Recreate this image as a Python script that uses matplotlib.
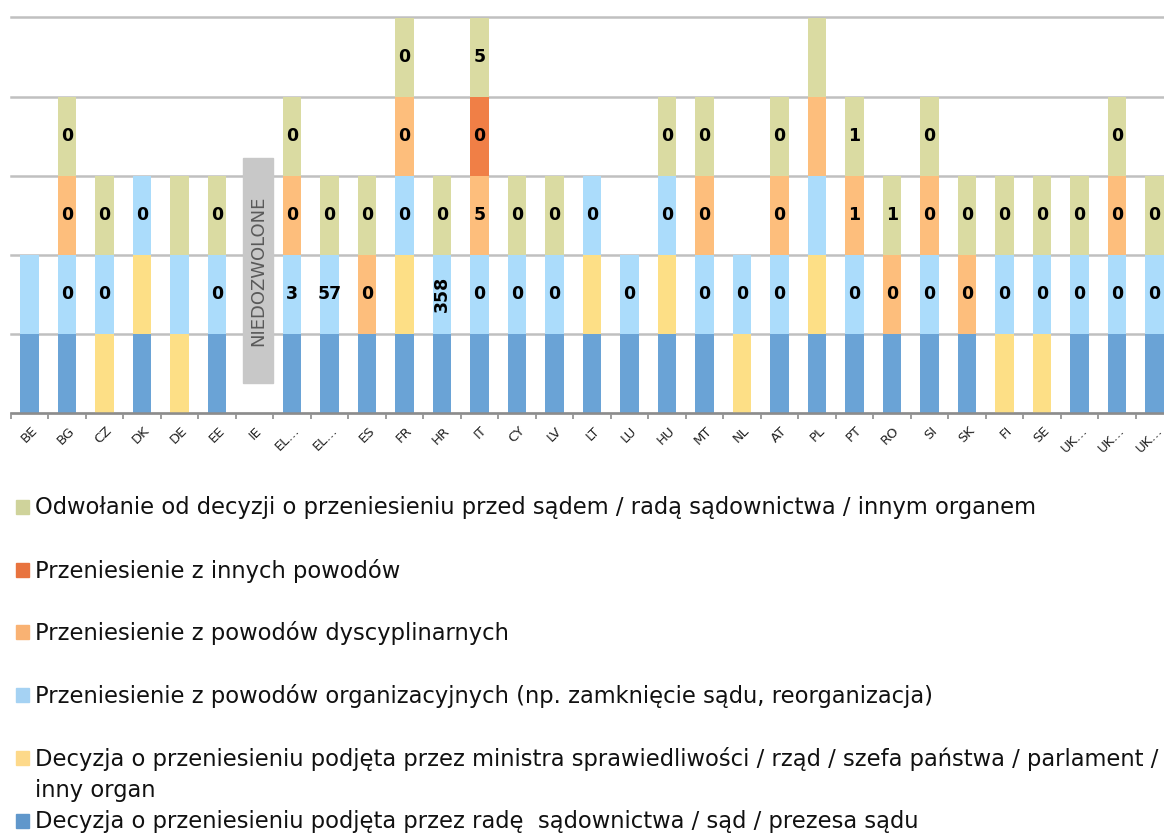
import numpy as np
import matplotlib
matplotlib.use('Agg')
from matplotlib import pyplot as plt
from matplotlib.patches import Rectangle
from matplotlib.transforms import offset_copy

#Data
countries = ['BE', 'BG', 'CZ', 'DK', 'DE', 'EE', 'IE', 'EL…', 'EL…', 'ES', 'FR', 'HR', 'IT', 'CY', 'LV',
             'LT', 'LU', 'HU', 'MT', 'NL', 'AT', 'PL', 'PT', 'RO', 'SI', 'SK', 'FI', 'SE', 'UK…', 'UK…', 'UK…']

#1 = segment present, stacked bottom to top
council   = [1, 1, 0, 1, 0, 1, 0, 1, 1, 1, 1, 1, 1, 1, 1, 1, 1, 1, 1, 0, 1, 1, 1, 1, 1, 1, 0, 0, 1, 1, 1]
minister  = [0, 0, 1, 1, 1, 0, 0, 0, 0, 0, 1, 0, 0, 0, 0, 1, 0, 1, 0, 1, 0, 1, 0, 0, 0, 0, 1, 1, 0, 0, 0]
organis   = [1, 1, 1, 1, 1, 1, 0, 1, 1, 0, 1, 1, 1, 1, 1, 1, 1, 1, 1, 1, 1, 1, 1, 0, 1, 0, 1, 1, 1, 1, 1]
discipl   = [0, 1, 0, 0, 0, 0, 0, 1, 0, 1, 1, 0, 1, 0, 0, 0, 0, 0, 1, 0, 1, 1, 1, 1, 1, 1, 0, 0, 0, 1, 0]
other     = [0, 0, 0, 0, 0, 0, 0, 0, 0, 0, 0, 0, 1, 0, 0, 0, 0, 0, 0, 0, 0, 0, 0, 0, 0, 0, 0, 0, 0, 0, 0]
appeal    = [0, 1, 1, 0, 1, 1, 0, 1, 1, 1, 1, 1, 1, 1, 1, 0, 0, 1, 1, 0, 1, 1, 1, 1, 1, 1, 1, 1, 1, 1, 1]

#Numbers written on the segments ('' = none)
council_lab  = [''] * 31
minister_lab = [''] * 31
organis_lab  = ['', '0', '0', '0', '', '0', '', '3', '57', '', '0', '358', '0', '0', '0', '0', '0', '0', '0', '0',
                '0', '', '0', '', '0', '', '0', '0', '0', '0', '0']
discipl_lab  = ['', '0', '', '', '', '', '', '0', '', '0', '0', '', '5', '', '', '', '', '', '0', '', '0', '', '1',
                '0', '0', '0', '', '', '', '0', '']
other_lab    = [''] * 12 + ['0'] + [''] * 18
appeal_lab   = ['', '0', '0', '', '', '0', '', '0', '0', '0', '0', '0', '5', '0', '0', '', '', '0', '0', '', '0', '',
                '1', '1', '0', '0', '0', '0', '0', '0', '0']

names = ['Decyzja o przeniesieniu podjęta przez radę  sądownictwa / sąd / prezesa sądu',
         'Decyzja o przeniesieniu podjęta przez ministra sprawiedliwości / rząd / szefa państwa / parlament /\ninny organ',
         'Przeniesienie z powodów organizacyjnych (np. zamknięcie sądu, reorganizacja)',
         'Przeniesienie z powodów dyscyplinarnych',
         'Przeniesienie z innych powodów',
         'Odwołanie od decyzji o przeniesieniu przed sądem / radą sądownictwa / innym organem']

series = [council, minister, organis, discipl, other, appeal]
labels = [council_lab, minister_lab, organis_lab, discipl_lab, other_lab, appeal_lab]
colors = ['#6aa3d6', '#fddf86', '#abdcfb', '#fdbe7c', '#f07f46', '#dadba2']
legend_colors = ['#6097cb', '#fdd98a', '#a5d2f3', '#f9b273', '#e8733e', '#cfd39b']

not_allowed = 'IE'

fig = plt.figure(figsize=(11.64, 8.33), dpi=100)
ax = fig.add_axes([10.75 / 1164, 420 / 833, 1162.5 / 1164, 395.5 / 833])

x = np.arange(len(countries))
bottom = np.zeros(len(countries))
for vals, labs, col in zip(series, labels, colors):
    vals = np.array(vals)
    ax.bar(x, vals, 0.5, bottom=bottom, color=col, linewidth=0, zorder=3)
    for i in range(len(countries)):
        if vals[i] and labs[i]:
            rot = 90 if len(labs[i]) > 2 else 0
            ax.text(x[i], bottom[i] + 0.5, labs[i], ha='center', va='center', rotation=rot,
                    fontsize=12.5, fontweight='bold', color='black', zorder=4)
    bottom = bottom + vals

#"not allowed" box
ie = countries.index(not_allowed)
ax.add_patch(Rectangle((ie - 0.31, 0.38), 0.8, 2.84, color='#c8c8c8', zorder=3))
ax.text(ie + 0.09, 0.38 + 1.42, 'NIEDOZWOLONE', rotation=90, ha='center', va='center',
        fontsize=13, color='#595959', zorder=4)

ax.set_xlim(-0.5, len(countries) - 0.5)
ax.set_ylim(0, 5)
ax.set_yticks(range(6))
ax.yaxis.grid(True, color='#c0c0c0', linewidth=1.8, zorder=0)
for gl in ax.get_ygridlines():
    gl.set_clip_on(False)
ax.tick_params(axis='y', length=0, labelleft=False)
for s in ['top', 'right', 'left']:
    ax.spines[s].set_visible(False)
ax.spines['bottom'].set_color('#8c8c8c')
ax.spines['bottom'].set_linewidth(1.8)
ax.spines['bottom'].set_zorder(5)

ax.set_xticks(x)
ax.set_xticks(np.arange(-0.5, len(countries), 1), minor=True)
ax.tick_params(axis='x', which='major', length=0, labelbottom=False)
ax.tick_params(axis='x', which='minor', length=4, width=1.2, color='#8c8c8c')
tick_tr = offset_copy(ax.get_xaxis_transform(), fig=fig, x=1, y=-11, units='dots')
for i, c in enumerate(countries):
    ax.text(x[i], 0, c, transform=tick_tr, rotation=45, ha='right', va='top', rotation_mode='anchor',
            fontsize=9.5, color='#222222')

#Legend (top entry is the last series)
legend_y = [507, 570, 632, 695, 758, 821]
for k, idx in enumerate(range(len(names) - 1, -1, -1)):
    yc = legend_y[k]
    fig.patches.append(Rectangle((16 / 1164, 1 - (yc + 7) / 833), 13 / 1164, 14 / 833,
                                 transform=fig.transFigure, color=legend_colors[idx]))
    fig.text(35 / 1164, 1 - (yc - 11) / 833, names[idx], ha='left', va='top', fontsize=16.3,
             family='DejaVu Sans', color='#111111', linespacing=1.45)

plt.savefig('out.png', dpi=100)
